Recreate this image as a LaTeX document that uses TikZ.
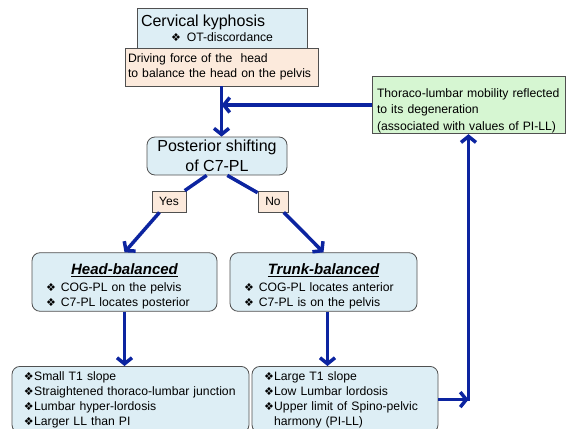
\documentclass[tikz,border=0pt]{standalone}
\usepackage{fontspec}
\setmainfont{Liberation Sans}
\newfontfamily\dingfont{DejaVu Sans}
\usetikzlibrary{arrows.meta,calc}

\definecolor{boxblue}{RGB}{221,238,245}
\definecolor{boxpeach}{RGB}{252,234,220}
\definecolor{boxgreen}{RGB}{214,246,210}
\definecolor{flowblue}{RGB}{12,36,160}
\definecolor{edgegray}{RGB}{80,80,80}

\newcommand{\dia}{{\dingfont\fontsize{11}{11}\selectfont ❖}}
\newcommand{\bodysize}{\fontsize{12.2}{15}\selectfont\hyphenpenalty=10000}
\newcommand{\headfont}{\fontsize{15}{18}\selectfont\bfseries\itshape}
\newcommand{\pnt}[1]{\hspace*{8pt}\dia\kern0.3pt #1}

\tikzset{
  box/.style={draw=edgegray, line width=0.8pt, inner xsep=4pt, inner ysep=3pt, font=\bodysize},
  bluebox/.style={box, fill=boxblue},
  roundbox/.style={bluebox, rounded corners=8pt},
  peachbox/.style={box, fill=boxpeach},
  greenbox/.style={box, fill=boxgreen},
  flow/.style={draw=flowblue, line width=3.5pt},
  flowarrow/.style={flow, -{Straight Barb[length=6pt,width=15pt]}}
}

\begin{document}
\begin{tikzpicture}[x=1pt,y=-1pt]
\useasboundingbox (0,0) rectangle (569,428);
\clip (0,0) rectangle (569,428);

% top of the chart
\node[bluebox, minimum width=170pt, minimum height=40pt, text width=162pt, align=left] (cerv) at (222,28)
  {{\fontsize{16}{20}\selectfont Cervical kyphosis}\\\hspace*{30pt}\dia\hspace{6pt}OT-discordance};
\node[peachbox, minimum width=193pt, minimum height=38pt, inner xsep=3pt, text width=187pt, align=left] (force) at (221.5,67)
  {Driving force of the\ \ head\\to balance the head on the pelvis};
\node[greenbox, minimum width=193pt, minimum height=54pt, inner xsep=5pt, inner ysep=1pt, text width=183pt, align=left,
  font=\bodysize\fontsize{12.2}{16.5}\selectfont] (mob) at (468.5,105)
  {\rule{0pt}{20pt}Thoraco-lumbar mobility reflected\\to its degeneration\\(associated with values of PI-LL)};

% decision
\node[roundbox, minimum width=140pt, minimum height=38pt, inner ysep=1pt, align=center,
  font=\fontsize{16}{20}\selectfont] (shift) at (217,156) {Posterior shifting\\of C7-PL};
\node[peachbox, minimum width=34pt, minimum height=21pt, inner sep=1pt, font=\fontsize{12}{14}\selectfont] (yes) at (169,201.5) {Yes};
\node[peachbox, minimum width=30pt, minimum height=21pt, inner sep=1pt, font=\fontsize{12}{14}\selectfont] (no) at (273,201.5) {No};

% balance types
\node[roundbox, minimum width=185pt, minimum height=58pt, inner ysep=2pt, text width=177pt, align=left] (head) at (124.5,282)
  {{\centering\headfont\rule{0pt}{20pt}\underline{Head-balanced}\par}\vspace{2pt}\hspace*{10pt}\dia\hspace{5pt}COG-PL on the pelvis\\\hspace*{10pt}\dia\hspace{5pt}C7-PL locates posterior};
\node[roundbox, minimum width=187pt, minimum height=58pt, inner ysep=2pt, text width=179pt, align=left] (trunk) at (323.5,282)
  {{\centering\headfont\rule{0pt}{20pt}\underline{Trunk-balanced}\par}\vspace{2pt}\hspace*{10pt}\dia\hspace{5pt}COG-PL locates anterior\\\hspace*{10pt}\dia\hspace{5pt}C7-PL is on the pelvis};

% findings
\node[roundbox, anchor=north, text width=229pt, inner ysep=5pt, align=left] (small) at (130.5,366)
  {\pnt{Small T1 slope}\\\pnt{Straightened thoraco-lumbar junction}\\\pnt{Lumbar hyper-lordosis}\\\pnt{Larger LL than PI}};
\node[roundbox, anchor=north, text width=178pt, inner ysep=5pt, align=left] (large) at (345,366)
  {\pnt{Large T1 slope}\\\pnt{Low Lumbar lordosis}\\\pnt{Upper limit of Spino-pelvic}\\\hspace*{8pt}\phantom{\dia}\kern0.3pt harmony (PI-LL)};

% connectors
\draw[flowarrow] (force.south) -- (force.south |- shift.north);
\draw[flowarrow] (mob.west) -- (mob.west -| force.south);
\draw[flow] (shift.-118) -- (yes);
\draw[flowarrow] (yes) -- (head.north);
\draw[flow] (shift.-62) -- (no);
\draw[flowarrow] (no) -- (trunk.north);
\draw[flowarrow] (head.south) -- (head.south |- small.north);
\draw[flowarrow] ([xshift=4pt]trunk.south) -- ([xshift=4pt]trunk.south |- large.north);
\coordinate (turn) at (large.east -| mob.south);
\draw[flowarrow] (large.east) -- (turn);
\draw[flowarrow] ([yshift=-1.75pt]turn) -- (mob.south);
\end{tikzpicture}
\end{document}
